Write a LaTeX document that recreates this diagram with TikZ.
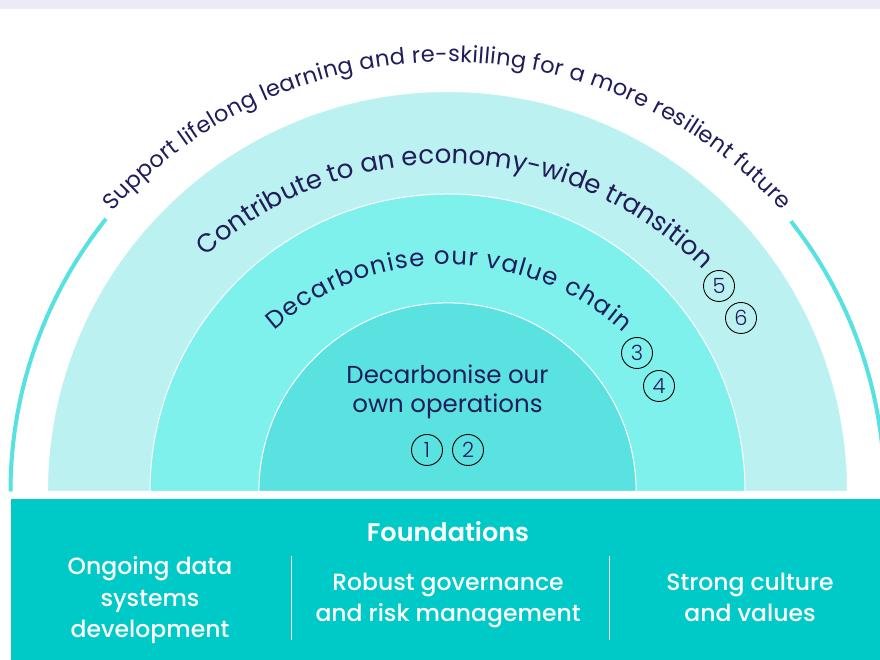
\documentclass[tikz,border=0pt]{standalone}
\usepackage{fontspec}
\setmainfont{Poppins}
\newfontfamily\popmed{Poppins Medium}
\newfontfamily\popsemi{Poppins SemiBold}
\newfontfamily\poplight{Poppins Light}
\usetikzlibrary{decorations.text}
\definecolor{navy}{HTML}{211C5A}
\definecolor{topband}{HTML}{ECEBF5}
\definecolor{ringA}{HTML}{BBF2F1}
\definecolor{ringB}{HTML}{7EF1ED}
\definecolor{ringC}{HTML}{5AE2E0}
\definecolor{found}{HTML}{00CAC7}
\definecolor{tealline}{HTML}{57E1E1}
\tikzset{
  ringshape/.style={draw=white, line width=1pt},
  outerline/.style={draw=tealline, line width=4pt},
  numc/.style={circle, draw=black, line width=0.9pt, minimum size=31pt, inner sep=0pt,
    text=navy, font=\poplight\fontsize{21}{21}\selectfont},
  innertext/.style={text=navy, align=center, font=\fontsize{24.5}{29}\selectfont},
  foundtext/.style={text=white, align=center, font=\popmed\fontsize{23.5}{31.5}\selectfont},
  divider/.style={draw=white, line width=1pt},
}
\begin{document}
\begin{tikzpicture}[x=1pt,y=1pt]
\useasboundingbox (0,0) rectangle (880,660);
\fill[white] (0,0) rectangle (880,660);
\fill[topband] (0,650.5) rectangle (880,660);
\coordinate (C) at (447.5,168.5);
% rings
\fill[ringA, ringshape] ([shift={(180:400)}]C) arc[start angle=180, end angle=0, radius=400] -- cycle;
\fill[ringB, ringshape] ([shift={(180:297.5)}]C) arc[start angle=180, end angle=0, radius=297.5] -- cycle;
\fill[ringC, ringshape] ([shift={(180:188.6)}]C) arc[start angle=180, end angle=0, radius=188.6] -- cycle;
% outer teal arcs
\draw[outerline] ([shift={(180:437)}]C) arc[start angle=180, end angle=141.4, radius=437];
\draw[outerline] ([shift={(38.2:437)}]C) arc[start angle=38.2, end angle=0, radius=437];
% arc texts
\coordinate (T1) at (447.5,149);
\coordinate (T2) at (447.5,135.3);
\coordinate (T3) at (447.5,133.3);
\path[decorate, decoration={text along path, text align={fit to path},
  text={|\fontsize{22.5}{27}\selectfont\color{navy}|Support lifelong learning and re-skilling for a more resilient future}}]
  ([shift={(138.2:449)}]T1) arc[start angle=138.2, end angle=42, radius=449];
\path[decorate, decoration={text along path, text align={fit to path},
  text={|\fontsize{26}{30}\selectfont\color{navy}|Contribute to an economy-wide transition}}]
  ([shift={(132:361)}]T2) arc[start angle=132, end angle=45, radius=361];
\path[decorate, decoration={text along path, text align={fit to path},
  text={|\fontsize{24.5}{29}\selectfont\color{navy}|Decarbonise our value chain}}]
  ([shift={(131.4:262)}]T3) arc[start angle=131.4, end angle=47.8, radius=262];
% inner text (base anchor = last line)
\node[innertext, anchor=base] (own) at (447.5,247) {Decarbonise our\\own operations};
% numbers
\node[numc] (n1) at (427,210) {1};
\node[numc] (n2) at (468,210) {2};
\node[numc] (n3) at (637,307) {3};
\node[numc] (n4) at (659,274) {4};
\node[numc] (n5) at (719,374) {5};
\node[numc] (n6) at (741,342) {6};
% foundations
\fill[found] (11,0) rectangle (880,161);
\node[text=white, anchor=base, font=\popsemi\fontsize{25.5}{30}\selectfont] (fnd) at (448,118) {Foundations};
\node[foundtext, anchor=base] (c1) at (150,22) {Ongoing data\\systems\\development};
\node[foundtext, anchor=base] (c2) at (448,38) {Robust governance\\and risk management};
\node[foundtext, anchor=base] (c3) at (750,38) {Strong culture\\and values};
\draw[divider] (291,104) -- (291,20);
\draw[divider] (609,104) -- (609,20);
\end{tikzpicture}
\end{document}
